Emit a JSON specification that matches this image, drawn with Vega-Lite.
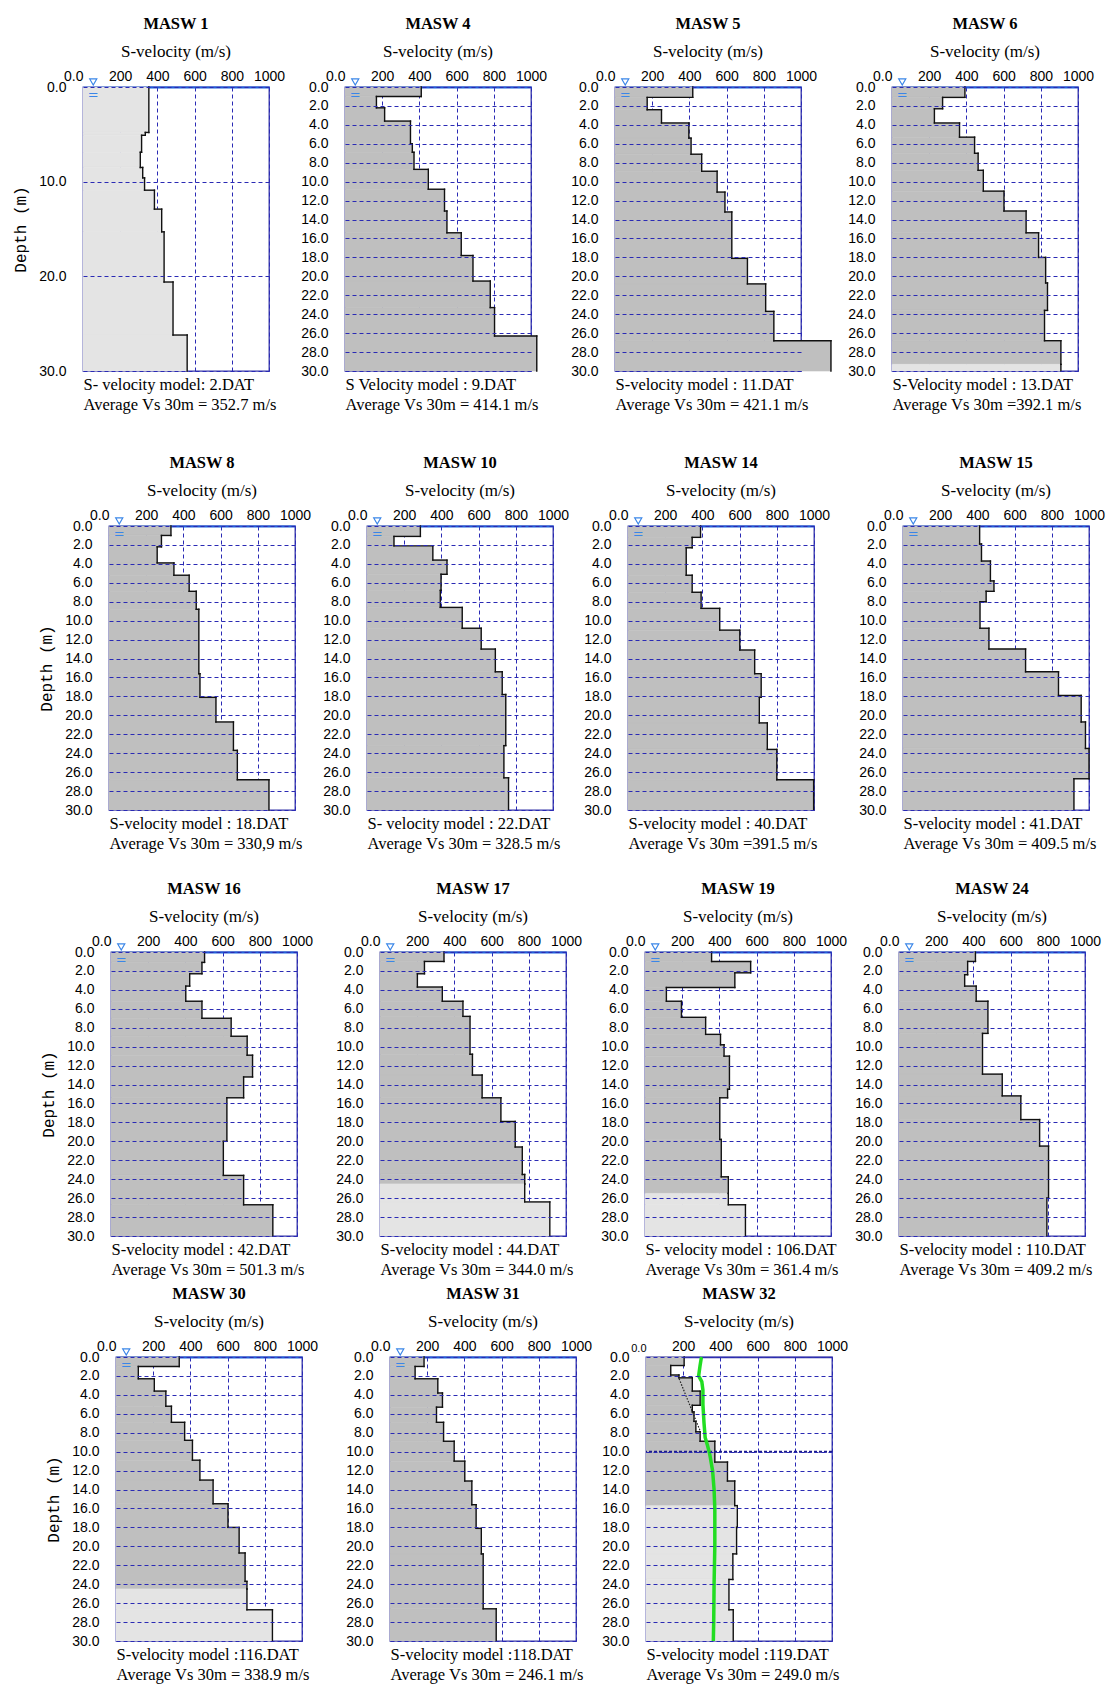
{
  "$schema": "https://vega.github.io/schema/vega-lite/v6.json",
  "padding": {"left": 8, "top": 14, "right": 5, "bottom": 5},
  "background": "white",
  "datasets": {
    "L": [
      {"p":1,"t":0,"b":4.8,"v":354,"z":"l"},{"p":1,"t":4.8,"b":5.1,"v":335,"z":"l"},{"p":1,"t":5.1,"b":6.9,"v":315,"z":"l"},{"p":1,"t":6.9,"b":8.5,"v":308,"z":"l"},{"p":1,"t":8.5,"b":9.6,"v":321,"z":"l"},{"p":1,"t":9.6,"b":10.9,"v":331,"z":"l"},{"p":1,"t":10.9,"b":12.9,"v":384,"z":"l"},{"p":1,"t":12.9,"b":15.3,"v":423,"z":"l"},{"p":1,"t":15.3,"b":20.6,"v":436,"z":"l"},{"p":1,"t":20.6,"b":26.2,"v":484,"z":"l"},{"p":1,"t":26.2,"b":30,"v":560,"z":"l"},
      {"p":4,"t":0,"b":1,"v":410,"z":"d"},{"p":4,"t":1,"b":2.2,"v":169,"z":"d"},{"p":4,"t":2.2,"b":3.6,"v":213,"z":"d"},{"p":4,"t":3.6,"b":6,"v":352,"z":"d"},{"p":4,"t":6,"b":6.9,"v":362,"z":"d"},{"p":4,"t":6.9,"b":8.7,"v":371,"z":"d"},{"p":4,"t":8.7,"b":10.8,"v":448,"z":"d"},{"p":4,"t":10.8,"b":13.1,"v":535,"z":"d"},{"p":4,"t":13.1,"b":15.4,"v":548,"z":"d"},{"p":4,"t":15.4,"b":17.8,"v":625,"z":"d"},{"p":4,"t":17.8,"b":20.5,"v":688,"z":"d"},{"p":4,"t":20.5,"b":23.3,"v":781,"z":"d"},{"p":4,"t":23.3,"b":26.3,"v":804,"z":"d"},{"p":4,"t":26.3,"b":30,"v":1031,"z":"d"},
      {"p":5,"t":0,"b":1.1,"v":418,"z":"d"},{"p":5,"t":1.1,"b":2.4,"v":173,"z":"d"},{"p":5,"t":2.4,"b":3.8,"v":250,"z":"d"},{"p":5,"t":3.8,"b":5.4,"v":397,"z":"d"},{"p":5,"t":5.4,"b":7.1,"v":409,"z":"d"},{"p":5,"t":7.1,"b":8.9,"v":466,"z":"d"},{"p":5,"t":8.9,"b":11.1,"v":549,"z":"d"},{"p":5,"t":11.1,"b":13.2,"v":591,"z":"d"},{"p":5,"t":13.2,"b":18.1,"v":628,"z":"d"},{"p":5,"t":18.1,"b":20.8,"v":712,"z":"d"},{"p":5,"t":20.8,"b":23.7,"v":810,"z":"d"},{"p":5,"t":23.7,"b":26.8,"v":854,"z":"d"},{"p":5,"t":26.8,"b":30,"v":1161,"z":"d"},
      {"p":6,"t":0,"b":1.1,"v":392,"z":"d"},{"p":6,"t":1.1,"b":2.3,"v":272,"z":"d"},{"p":6,"t":2.3,"b":3.8,"v":228,"z":"d"},{"p":6,"t":3.8,"b":5.3,"v":363,"z":"d"},{"p":6,"t":5.3,"b":7,"v":444,"z":"d"},{"p":6,"t":7,"b":8.8,"v":463,"z":"d"},{"p":6,"t":8.8,"b":11,"v":491,"z":"d"},{"p":6,"t":11,"b":13.1,"v":602,"z":"d"},{"p":6,"t":13.1,"b":15.4,"v":721,"z":"d"},{"p":6,"t":15.4,"b":18,"v":788,"z":"d"},{"p":6,"t":18,"b":20.7,"v":826,"z":"d"},{"p":6,"t":20.7,"b":23.6,"v":836,"z":"d"},{"p":6,"t":23.6,"b":26.8,"v":820,"z":"d"},{"p":6,"t":26.8,"b":29.3,"v":908,"z":"d"},{"p":6,"t":29.3,"b":30,"v":908,"z":"l"},
      {"p":8,"t":0,"b":1,"v":333,"z":"d"},{"p":8,"t":1,"b":2.2,"v":282,"z":"d"},{"p":8,"t":2.2,"b":3.9,"v":259,"z":"d"},{"p":8,"t":3.9,"b":5.2,"v":349,"z":"d"},{"p":8,"t":5.2,"b":6.9,"v":431,"z":"d"},{"p":8,"t":6.9,"b":8.8,"v":469,"z":"d"},{"p":8,"t":8.8,"b":15.6,"v":483,"z":"d"},{"p":8,"t":15.6,"b":18.1,"v":489,"z":"d"},{"p":8,"t":18.1,"b":20.7,"v":575,"z":"d"},{"p":8,"t":20.7,"b":23.7,"v":669,"z":"d"},{"p":8,"t":23.7,"b":26.8,"v":690,"z":"d"},{"p":8,"t":26.8,"b":30,"v":860,"z":"d"},
      {"p":10,"t":0,"b":1.1,"v":287,"z":"d"},{"p":10,"t":1.1,"b":2.1,"v":145,"z":"d"},{"p":10,"t":2.1,"b":3.6,"v":354,"z":"d"},{"p":10,"t":3.6,"b":5.1,"v":430,"z":"d"},{"p":10,"t":5.1,"b":6.8,"v":398,"z":"d"},{"p":10,"t":6.8,"b":8.6,"v":394,"z":"d"},{"p":10,"t":8.6,"b":10.8,"v":512,"z":"d"},{"p":10,"t":10.8,"b":13,"v":614,"z":"d"},{"p":10,"t":13,"b":15.4,"v":690,"z":"d"},{"p":10,"t":15.4,"b":17.8,"v":727,"z":"d"},{"p":10,"t":17.8,"b":23.2,"v":746,"z":"d"},{"p":10,"t":23.2,"b":26.6,"v":736,"z":"d"},{"p":10,"t":26.6,"b":30,"v":761,"z":"d"},
      {"p":14,"t":0,"b":1.2,"v":390,"z":"d"},{"p":14,"t":1.2,"b":2.3,"v":345,"z":"d"},{"p":14,"t":2.3,"b":5.2,"v":313,"z":"d"},{"p":14,"t":5.2,"b":7,"v":345,"z":"d"},{"p":14,"t":7,"b":8.7,"v":393,"z":"d"},{"p":14,"t":8.7,"b":11,"v":493,"z":"d"},{"p":14,"t":11,"b":13.1,"v":601,"z":"d"},{"p":14,"t":13.1,"b":15.6,"v":681,"z":"d"},{"p":14,"t":15.6,"b":18.1,"v":716,"z":"d"},{"p":14,"t":18.1,"b":20.8,"v":706,"z":"d"},{"p":14,"t":20.8,"b":23.6,"v":749,"z":"d"},{"p":14,"t":23.6,"b":26.8,"v":800,"z":"d"},{"p":14,"t":26.8,"b":30,"v":998,"z":"d"},
      {"p":15,"t":0,"b":1.9,"v":412,"z":"d"},{"p":15,"t":1.9,"b":3.7,"v":422,"z":"d"},{"p":15,"t":3.7,"b":5.8,"v":470,"z":"d"},{"p":15,"t":5.8,"b":6.9,"v":489,"z":"d"},{"p":15,"t":6.9,"b":8,"v":447,"z":"d"},{"p":15,"t":8,"b":10.8,"v":414,"z":"d"},{"p":15,"t":10.8,"b":13,"v":462,"z":"d"},{"p":15,"t":13,"b":15.4,"v":659,"z":"d"},{"p":15,"t":15.4,"b":17.9,"v":836,"z":"d"},{"p":15,"t":17.9,"b":20.7,"v":958,"z":"d"},{"p":15,"t":20.7,"b":23.5,"v":981,"z":"d"},{"p":15,"t":23.5,"b":26.7,"v":1000,"z":"d"},{"p":15,"t":26.7,"b":30,"v":919,"z":"d"},
      {"p":16,"t":0,"b":1.1,"v":503,"z":"d"},{"p":16,"t":1.1,"b":2.3,"v":489,"z":"d"},{"p":16,"t":2.3,"b":3.6,"v":423,"z":"d"},{"p":16,"t":3.6,"b":5.2,"v":402,"z":"d"},{"p":16,"t":5.2,"b":7,"v":489,"z":"d"},{"p":16,"t":7,"b":8.9,"v":646,"z":"d"},{"p":16,"t":8.9,"b":10.9,"v":732,"z":"d"},{"p":16,"t":10.9,"b":13.2,"v":761,"z":"d"},{"p":16,"t":13.2,"b":15.4,"v":713,"z":"d"},{"p":16,"t":15.4,"b":20,"v":623,"z":"d"},{"p":16,"t":20,"b":23.6,"v":604,"z":"d"},{"p":16,"t":23.6,"b":26.7,"v":713,"z":"d"},{"p":16,"t":26.7,"b":30,"v":870,"z":"d"},
      {"p":17,"t":0,"b":1,"v":344,"z":"d"},{"p":17,"t":1,"b":2.3,"v":239,"z":"d"},{"p":17,"t":2.3,"b":3.7,"v":201,"z":"d"},{"p":17,"t":3.7,"b":5.2,"v":335,"z":"d"},{"p":17,"t":5.2,"b":6.8,"v":446,"z":"d"},{"p":17,"t":6.8,"b":10.8,"v":484,"z":"d"},{"p":17,"t":10.8,"b":13,"v":497,"z":"d"},{"p":17,"t":13,"b":15.4,"v":549,"z":"d"},{"p":17,"t":15.4,"b":17.9,"v":650,"z":"d"},{"p":17,"t":17.9,"b":20.6,"v":727,"z":"d"},{"p":17,"t":20.6,"b":23.5,"v":765,"z":"d"},{"p":17,"t":23.5,"b":24.5,"v":778,"z":"d"},{"p":17,"t":24.5,"b":26.4,"v":778,"z":"l"},{"p":17,"t":26.4,"b":30,"v":913,"z":"l"},
      {"p":19,"t":0,"b":1,"v":358,"z":"d"},{"p":19,"t":1,"b":2.2,"v":568,"z":"d"},{"p":19,"t":2.2,"b":3.75,"v":483,"z":"d"},{"p":19,"t":3.75,"b":5.2,"v":115,"z":"d"},{"p":19,"t":5.2,"b":6.9,"v":196,"z":"d"},{"p":19,"t":6.9,"b":8.7,"v":326,"z":"d"},{"p":19,"t":8.7,"b":9.8,"v":406,"z":"d"},{"p":19,"t":9.8,"b":11,"v":425,"z":"d"},{"p":19,"t":11,"b":14.5,"v":454,"z":"d"},{"p":19,"t":14.5,"b":15.4,"v":444,"z":"d"},{"p":19,"t":15.4,"b":19.8,"v":402,"z":"d"},{"p":19,"t":19.8,"b":23.75,"v":410,"z":"d"},{"p":19,"t":23.75,"b":25.5,"v":448,"z":"d"},{"p":19,"t":25.5,"b":26.7,"v":448,"z":"l"},{"p":19,"t":26.7,"b":30,"v":540,"z":"l"},
      {"p":24,"t":0,"b":1,"v":411,"z":"d"},{"p":24,"t":1,"b":2.4,"v":369,"z":"d"},{"p":24,"t":2.4,"b":3.6,"v":353,"z":"d"},{"p":24,"t":3.6,"b":5.2,"v":415,"z":"d"},{"p":24,"t":5.2,"b":8.6,"v":478,"z":"d"},{"p":24,"t":8.6,"b":12.9,"v":449,"z":"d"},{"p":24,"t":12.9,"b":15.2,"v":555,"z":"d"},{"p":24,"t":15.2,"b":17.7,"v":655,"z":"d"},{"p":24,"t":17.7,"b":20.5,"v":756,"z":"d"},{"p":24,"t":20.5,"b":26,"v":804,"z":"d"},{"p":24,"t":26,"b":30,"v":795,"z":"d"},
      {"p":30,"t":0,"b":1,"v":340,"z":"d"},{"p":30,"t":1,"b":2.3,"v":120,"z":"d"},{"p":30,"t":2.3,"b":3.6,"v":206,"z":"d"},{"p":30,"t":3.6,"b":5.2,"v":268,"z":"d"},{"p":30,"t":5.2,"b":6.9,"v":298,"z":"d"},{"p":30,"t":6.9,"b":8.8,"v":369,"z":"d"},{"p":30,"t":8.8,"b":10.9,"v":411,"z":"d"},{"p":30,"t":10.9,"b":13,"v":451,"z":"d"},{"p":30,"t":13,"b":15.5,"v":522,"z":"d"},{"p":30,"t":15.5,"b":18,"v":602,"z":"d"},{"p":30,"t":18,"b":20.7,"v":662,"z":"d"},{"p":30,"t":20.7,"b":23.7,"v":694,"z":"d"},{"p":30,"t":23.7,"b":24.5,"v":704,"z":"d"},{"p":30,"t":24.5,"b":26.7,"v":704,"z":"l"},{"p":30,"t":26.7,"b":30,"v":841,"z":"l"},
      {"p":31,"t":0,"b":1,"v":183,"z":"d"},{"p":31,"t":1,"b":2.3,"v":135,"z":"d"},{"p":31,"t":2.3,"b":3.8,"v":257,"z":"d"},{"p":31,"t":3.8,"b":5.3,"v":282,"z":"d"},{"p":31,"t":5.3,"b":6.9,"v":250,"z":"d"},{"p":31,"t":6.9,"b":8.9,"v":288,"z":"d"},{"p":31,"t":8.9,"b":11,"v":345,"z":"d"},{"p":31,"t":11,"b":13.1,"v":402,"z":"d"},{"p":31,"t":13.1,"b":15.6,"v":440,"z":"d"},{"p":31,"t":15.6,"b":18.1,"v":463,"z":"d"},{"p":31,"t":18.1,"b":20.8,"v":491,"z":"d"},{"p":31,"t":20.8,"b":26.6,"v":501,"z":"d"},{"p":31,"t":26.6,"b":30,"v":571,"z":"d"},
      {"p":32,"t":0,"b":0.9,"v":205,"z":"d"},{"p":32,"t":0.9,"b":1.9,"v":133,"z":"d"},{"p":32,"t":1.9,"b":2.2,"v":177,"z":"d"},{"p":32,"t":2.2,"b":3.6,"v":249,"z":"d"},{"p":32,"t":3.6,"b":5.1,"v":291,"z":"d"},{"p":32,"t":5.1,"b":5.8,"v":249,"z":"d"},{"p":32,"t":5.8,"b":6.8,"v":258,"z":"d"},{"p":32,"t":6.8,"b":7.9,"v":268,"z":"d"},{"p":32,"t":7.9,"b":8.9,"v":291,"z":"d"},{"p":32,"t":8.9,"b":11.1,"v":370,"z":"d"},{"p":32,"t":11.1,"b":13.1,"v":438,"z":"d"},{"p":32,"t":13.1,"b":15.7,"v":477,"z":"d"},{"p":32,"t":15.7,"b":18,"v":491,"z":"l"},{"p":32,"t":18,"b":20.8,"v":487,"z":"l"},{"p":32,"t":20.8,"b":23.5,"v":467,"z":"l"},{"p":32,"t":23.5,"b":26.7,"v":446,"z":"l"},{"p":32,"t":26.7,"b":30,"v":469,"z":"l"}
    ],
    "G": [
      {"d":0,"v":298},{"d":1,"v":290},{"d":2,"v":283},{"d":2.6,"v":300},{"d":3.5,"v":306},{"d":5,"v":306},{"d":7,"v":312},{"d":8.5,"v":318},{"d":9.3,"v":330},{"d":10.2,"v":342},{"d":12,"v":358},{"d":14,"v":366},{"d":16,"v":370},{"d":20,"v":370},{"d":24,"v":366},{"d":28,"v":364},{"d":30,"v":362}
    ],
    "DT": [
      {"d":2.0,"v":172},{"d":7.8,"v":291}
    ]
  },
  "config": {
    "font": "Liberation Serif",
    "view": {"stroke": "#3434a8", "strokeWidth": 1.3},
    "title": {"font": "Liberation Serif", "fontSize": 16.5, "fontWeight": "bold", "color": "#000000", "subtitleFont": "Liberation Serif", "subtitleFontSize": 17, "subtitleColor": "#000000", "subtitlePadding": 12, "offset": 9, "anchor": "middle", "frame": "group"},
    "axis": {"labelFont": "Liberation Sans", "labelFontSize": 14, "labelColor": "#000000", "titleFont": "Liberation Serif", "titleColor": "#000000", "titleFontWeight": "normal", "ticks": false, "domain": false, "grid": false},
    "axisTop": {"tickCount": 5, "labelExpr": "datum.value === 0 ? '0.0' : format(datum.value, 'd')", "labelPadding": 4, "grid": true, "gridColor": "#2a2ab4", "gridDash": [4, 3], "gridWidth": 1, "domain": true, "domainColor": "#1f5fd9", "domainWidth": 2.2, "zindex": 1},
    "axisLeft": {"titleFont": "Liberation Mono", "titleFontSize": 16, "titlePadding": 10},
    "axisBottom": {"labels": false, "grid": false, "domain": false, "ticks": false, "titleAnchor": "start", "titleAlign": "left", "titleBaseline": "top", "titleFont": "Liberation Serif", "titleFontSize": 16.5, "titlePadding": 5, "titleLineHeight": 20}
  },
  "spacing": 39,
  "vconcat": [
    {"bounds": "flush", "spacing": 71, "hconcat": [
      {"width": 1, "height": 1, "data": {"values": [{}]}, "mark": {"type": "point", "opacity": 0}, "view": {"stroke": null}},
      {"bounds": "flush", "spacing": 76, "hconcat": [
      {"title": {"text": "MASW 1", "subtitle": "S-velocity (m/s)"}, "width": 186, "height": 284, "resolve": {"axis": {"x": "independent", "y": "independent"}}, "layer": [
        {"data": {"name": "L"}, "transform": [{"filter": "datum.p==1"}], "mark": {"type": "rect", "strokeWidth": 0.6}, "encoding": {"x": {"field": "v", "type": "quantitative", "scale": {"domain": [0, 1000], "nice": false}, "axis": {"orient": "top", "title": null, "labelAlign": {"condition": {"test": "datum.value === 0", "value": "right"}, "value": "center"}}}, "x2": {"datum": 0}, "y": {"field": "t", "type": "quantitative", "scale": {"domain": [0, 30], "nice": false, "reverse": true}, "axis": {"orient": "left", "title": "Depth  (m)", "tickCount": 3, "labelExpr": "format(datum.value, '.1f')", "labelPadding": 17, "grid": true, "gridColor": "#2a2ab4", "gridDash": [4, 3], "zindex": 1}}, "y2": {"field": "b"}, "fill": {"field": "z", "type": "nominal", "scale": {"domain": ["d", "l"], "range": ["#bfbfbf", "#e4e4e4"]}, "legend": null}, "stroke": {"field": "z", "type": "nominal", "scale": {"domain": ["d", "l"], "range": ["#bfbfbf", "#e4e4e4"]}, "legend": null}}},
        {"data": {"name": "L"}, "transform": [{"filter": "datum.p==1"}], "mark": {"type": "rule", "color": "#111111", "strokeWidth": 1.4, "strokeCap": "square"}, "encoding": {"x": {"field": "v", "type": "quantitative", "axis": {"orient": "bottom", "title": ["S- velocity model: 2.DAT", "Average Vs 30m = 352.7 m/s"]}}, "y": {"field": "t", "type": "quantitative", "axis": null}, "y2": {"field": "b"}}},
        {"data": {"name": "L"}, "transform": [{"filter": "datum.p==1"}, {"window": [{"op": "lead", "field": "v", "as": "vn"}], "sort": [{"field": "t", "order": "ascending"}]}, {"filter": "datum.vn != null"}], "mark": {"type": "rule", "color": "#111111", "strokeWidth": 1.4, "strokeCap": "square"}, "encoding": {"x": {"field": "v", "type": "quantitative", "axis": null}, "x2": {"field": "vn"}, "y": {"field": "b", "type": "quantitative", "axis": null}}},
        {"data": {"values": [{}]}, "mark": {"type": "point", "shape": "triangle-down", "size": 50, "fill": "#ffffff", "stroke": "#3a86e8", "strokeWidth": 1.2, "opacity": 1, "yOffset": -5}, "encoding": {"x": {"datum": 55, "axis": null}, "y": {"datum": 0, "axis": null}}},
        {"data": {"values": [{}]}, "mark": {"type": "text", "text": "=", "color": "#3a86e8", "fontSize": 13, "font": "DejaVu Sans"}, "encoding": {"x": {"datum": 55, "axis": null}, "y": {"datum": 0.8, "axis": null}}}
      ]},
      {"bounds": "flush", "spacing": 84, "hconcat": [
        {"title": {"text": "MASW 4", "subtitle": "S-velocity (m/s)"}, "width": 186, "height": 284, "resolve": {"axis": {"x": "independent", "y": "independent"}}, "layer": [
          {"data": {"name": "L"}, "transform": [{"filter": "datum.p==4"}], "mark": {"type": "rect", "strokeWidth": 0.6}, "encoding": {"x": {"field": "v", "type": "quantitative", "scale": {"domain": [0, 1000], "nice": false}, "axis": {"orient": "top", "title": null, "labelAlign": {"condition": {"test": "datum.value === 0", "value": "right"}, "value": "center"}}}, "x2": {"datum": 0}, "y": {"field": "t", "type": "quantitative", "scale": {"domain": [0, 30], "nice": false, "reverse": true}, "axis": {"orient": "left", "title": null, "tickCount": 15, "labelExpr": "format(datum.value, '.1f')", "labelPadding": 17, "grid": true, "gridColor": "#2a2ab4", "gridDash": [4, 3], "zindex": 1}}, "y2": {"field": "b"}, "fill": {"field": "z", "type": "nominal", "scale": {"domain": ["d", "l"], "range": ["#bfbfbf", "#e4e4e4"]}, "legend": null}, "stroke": {"field": "z", "type": "nominal", "scale": {"domain": ["d", "l"], "range": ["#bfbfbf", "#e4e4e4"]}, "legend": null}}},
          {"data": {"name": "L"}, "transform": [{"filter": "datum.p==4"}], "mark": {"type": "rule", "color": "#111111", "strokeWidth": 1.4, "strokeCap": "square"}, "encoding": {"x": {"field": "v", "type": "quantitative", "axis": {"orient": "bottom", "title": ["S Velocity model : 9.DAT", "Average Vs 30m = 414.1 m/s"]}}, "y": {"field": "t", "type": "quantitative", "axis": null}, "y2": {"field": "b"}}},
          {"data": {"name": "L"}, "transform": [{"filter": "datum.p==4"}, {"window": [{"op": "lead", "field": "v", "as": "vn"}], "sort": [{"field": "t", "order": "ascending"}]}, {"filter": "datum.vn != null"}], "mark": {"type": "rule", "color": "#111111", "strokeWidth": 1.4, "strokeCap": "square"}, "encoding": {"x": {"field": "v", "type": "quantitative", "axis": null}, "x2": {"field": "vn"}, "y": {"field": "b", "type": "quantitative", "axis": null}}},
          {"data": {"values": [{}]}, "mark": {"type": "point", "shape": "triangle-down", "size": 50, "fill": "#ffffff", "stroke": "#3a86e8", "strokeWidth": 1.2, "opacity": 1, "yOffset": -5}, "encoding": {"x": {"datum": 55, "axis": null}, "y": {"datum": 0, "axis": null}}},
          {"data": {"values": [{}]}, "mark": {"type": "text", "text": "=", "color": "#3a86e8", "fontSize": 13, "font": "DejaVu Sans"}, "encoding": {"x": {"datum": 55, "axis": null}, "y": {"datum": 0.8, "axis": null}}}
        ]},
        {"bounds": "flush", "spacing": 91, "hconcat": [
          {"title": {"text": "MASW 5", "subtitle": "S-velocity (m/s)"}, "width": 186, "height": 284, "resolve": {"axis": {"x": "independent", "y": "independent"}}, "layer": [
            {"data": {"name": "L"}, "transform": [{"filter": "datum.p==5"}], "mark": {"type": "rect", "strokeWidth": 0.6}, "encoding": {"x": {"field": "v", "type": "quantitative", "scale": {"domain": [0, 1000], "nice": false}, "axis": {"orient": "top", "title": null, "labelAlign": {"condition": {"test": "datum.value === 0", "value": "right"}, "value": "center"}}}, "x2": {"datum": 0}, "y": {"field": "t", "type": "quantitative", "scale": {"domain": [0, 30], "nice": false, "reverse": true}, "axis": {"orient": "left", "title": null, "tickCount": 15, "labelExpr": "format(datum.value, '.1f')", "labelPadding": 17, "grid": true, "gridColor": "#2a2ab4", "gridDash": [4, 3], "zindex": 1}}, "y2": {"field": "b"}, "fill": {"field": "z", "type": "nominal", "scale": {"domain": ["d", "l"], "range": ["#bfbfbf", "#e4e4e4"]}, "legend": null}, "stroke": {"field": "z", "type": "nominal", "scale": {"domain": ["d", "l"], "range": ["#bfbfbf", "#e4e4e4"]}, "legend": null}}},
            {"data": {"name": "L"}, "transform": [{"filter": "datum.p==5"}], "mark": {"type": "rule", "color": "#111111", "strokeWidth": 1.4, "strokeCap": "square"}, "encoding": {"x": {"field": "v", "type": "quantitative", "axis": {"orient": "bottom", "title": ["S-velocity model : 11.DAT", "Average Vs 30m = 421.1 m/s"]}}, "y": {"field": "t", "type": "quantitative", "axis": null}, "y2": {"field": "b"}}},
            {"data": {"name": "L"}, "transform": [{"filter": "datum.p==5"}, {"window": [{"op": "lead", "field": "v", "as": "vn"}], "sort": [{"field": "t", "order": "ascending"}]}, {"filter": "datum.vn != null"}], "mark": {"type": "rule", "color": "#111111", "strokeWidth": 1.4, "strokeCap": "square"}, "encoding": {"x": {"field": "v", "type": "quantitative", "axis": null}, "x2": {"field": "vn"}, "y": {"field": "b", "type": "quantitative", "axis": null}}},
            {"data": {"values": [{}]}, "mark": {"type": "point", "shape": "triangle-down", "size": 50, "fill": "#ffffff", "stroke": "#3a86e8", "strokeWidth": 1.2, "opacity": 1, "yOffset": -5}, "encoding": {"x": {"datum": 55, "axis": null}, "y": {"datum": 0, "axis": null}}},
            {"data": {"values": [{}]}, "mark": {"type": "text", "text": "=", "color": "#3a86e8", "fontSize": 13, "font": "DejaVu Sans"}, "encoding": {"x": {"datum": 55, "axis": null}, "y": {"datum": 0.8, "axis": null}}}
          ]},
          {"title": {"text": "MASW 6", "subtitle": "S-velocity (m/s)"}, "width": 186, "height": 284, "resolve": {"axis": {"x": "independent", "y": "independent"}}, "layer": [
            {"data": {"name": "L"}, "transform": [{"filter": "datum.p==6"}], "mark": {"type": "rect", "strokeWidth": 0.6}, "encoding": {"x": {"field": "v", "type": "quantitative", "scale": {"domain": [0, 1000], "nice": false}, "axis": {"orient": "top", "title": null, "labelAlign": {"condition": {"test": "datum.value === 0", "value": "right"}, "value": "center"}}}, "x2": {"datum": 0}, "y": {"field": "t", "type": "quantitative", "scale": {"domain": [0, 30], "nice": false, "reverse": true}, "axis": {"orient": "left", "title": null, "tickCount": 15, "labelExpr": "format(datum.value, '.1f')", "labelPadding": 17, "grid": true, "gridColor": "#2a2ab4", "gridDash": [4, 3], "zindex": 1}}, "y2": {"field": "b"}, "fill": {"field": "z", "type": "nominal", "scale": {"domain": ["d", "l"], "range": ["#bfbfbf", "#e4e4e4"]}, "legend": null}, "stroke": {"field": "z", "type": "nominal", "scale": {"domain": ["d", "l"], "range": ["#bfbfbf", "#e4e4e4"]}, "legend": null}}},
            {"data": {"name": "L"}, "transform": [{"filter": "datum.p==6"}], "mark": {"type": "rule", "color": "#111111", "strokeWidth": 1.4, "strokeCap": "square"}, "encoding": {"x": {"field": "v", "type": "quantitative", "axis": {"orient": "bottom", "title": ["S-Velocity model : 13.DAT", "Average Vs 30m =392.1 m/s"]}}, "y": {"field": "t", "type": "quantitative", "axis": null}, "y2": {"field": "b"}}},
            {"data": {"name": "L"}, "transform": [{"filter": "datum.p==6"}, {"window": [{"op": "lead", "field": "v", "as": "vn"}], "sort": [{"field": "t", "order": "ascending"}]}, {"filter": "datum.vn != null"}], "mark": {"type": "rule", "color": "#111111", "strokeWidth": 1.4, "strokeCap": "square"}, "encoding": {"x": {"field": "v", "type": "quantitative", "axis": null}, "x2": {"field": "vn"}, "y": {"field": "b", "type": "quantitative", "axis": null}}},
            {"data": {"values": [{}]}, "mark": {"type": "point", "shape": "triangle-down", "size": 50, "fill": "#ffffff", "stroke": "#3a86e8", "strokeWidth": 1.2, "opacity": 1, "yOffset": -5}, "encoding": {"x": {"datum": 55, "axis": null}, "y": {"datum": 0, "axis": null}}},
            {"data": {"values": [{}]}, "mark": {"type": "text", "text": "=", "color": "#3a86e8", "fontSize": 13, "font": "DejaVu Sans"}, "encoding": {"x": {"datum": 55, "axis": null}, "y": {"datum": 0.8, "axis": null}}}
          ]}
        ]}
      ]}
      ]}
    ]},
    {"spacing": 26, "vconcat": [
      {"bounds": "flush", "spacing": 97, "hconcat": [
        {"width": 1, "height": 1, "data": {"values": [{}]}, "mark": {"type": "point", "opacity": 0}, "view": {"stroke": null}},
        {"bounds": "flush", "spacing": 72, "hconcat": [
          {"title": {"text": "MASW 8", "subtitle": "S-velocity (m/s)"}, "width": 186, "height": 284, "resolve": {"axis": {"x": "independent", "y": "independent"}}, "layer": [
            {"data": {"name": "L"}, "transform": [{"filter": "datum.p==8"}], "mark": {"type": "rect", "strokeWidth": 0.6}, "encoding": {"x": {"field": "v", "type": "quantitative", "scale": {"domain": [0, 1000], "nice": false}, "axis": {"orient": "top", "title": null, "labelAlign": {"condition": {"test": "datum.value === 0", "value": "right"}, "value": "center"}}}, "x2": {"datum": 0}, "y": {"field": "t", "type": "quantitative", "scale": {"domain": [0, 30], "nice": false, "reverse": true}, "axis": {"orient": "left", "title": "Depth  (m)", "tickCount": 15, "labelExpr": "format(datum.value, '.1f')", "labelPadding": 17, "grid": true, "gridColor": "#2a2ab4", "gridDash": [4, 3], "zindex": 1}}, "y2": {"field": "b"}, "fill": {"field": "z", "type": "nominal", "scale": {"domain": ["d", "l"], "range": ["#bfbfbf", "#e4e4e4"]}, "legend": null}, "stroke": {"field": "z", "type": "nominal", "scale": {"domain": ["d", "l"], "range": ["#bfbfbf", "#e4e4e4"]}, "legend": null}}},
            {"data": {"name": "L"}, "transform": [{"filter": "datum.p==8"}], "mark": {"type": "rule", "color": "#111111", "strokeWidth": 1.4, "strokeCap": "square"}, "encoding": {"x": {"field": "v", "type": "quantitative", "axis": {"orient": "bottom", "title": ["S-velocity model : 18.DAT", "Average Vs 30m = 330,9 m/s"]}}, "y": {"field": "t", "type": "quantitative", "axis": null}, "y2": {"field": "b"}}},
            {"data": {"name": "L"}, "transform": [{"filter": "datum.p==8"}, {"window": [{"op": "lead", "field": "v", "as": "vn"}], "sort": [{"field": "t", "order": "ascending"}]}, {"filter": "datum.vn != null"}], "mark": {"type": "rule", "color": "#111111", "strokeWidth": 1.4, "strokeCap": "square"}, "encoding": {"x": {"field": "v", "type": "quantitative", "axis": null}, "x2": {"field": "vn"}, "y": {"field": "b", "type": "quantitative", "axis": null}}},
            {"data": {"values": [{}]}, "mark": {"type": "point", "shape": "triangle-down", "size": 50, "fill": "#ffffff", "stroke": "#3a86e8", "strokeWidth": 1.2, "opacity": 1, "yOffset": -5}, "encoding": {"x": {"datum": 55, "axis": null}, "y": {"datum": 0, "axis": null}}},
            {"data": {"values": [{}]}, "mark": {"type": "text", "text": "=", "color": "#3a86e8", "fontSize": 13, "font": "DejaVu Sans"}, "encoding": {"x": {"datum": 55, "axis": null}, "y": {"datum": 0.8, "axis": null}}}
          ]},
          {"bounds": "flush", "spacing": 75, "hconcat": [
            {"title": {"text": "MASW 10", "subtitle": "S-velocity (m/s)"}, "width": 186, "height": 284, "resolve": {"axis": {"x": "independent", "y": "independent"}}, "layer": [
              {"data": {"name": "L"}, "transform": [{"filter": "datum.p==10"}], "mark": {"type": "rect", "strokeWidth": 0.6}, "encoding": {"x": {"field": "v", "type": "quantitative", "scale": {"domain": [0, 1000], "nice": false}, "axis": {"orient": "top", "title": null, "labelAlign": {"condition": {"test": "datum.value === 0", "value": "right"}, "value": "center"}}}, "x2": {"datum": 0}, "y": {"field": "t", "type": "quantitative", "scale": {"domain": [0, 30], "nice": false, "reverse": true}, "axis": {"orient": "left", "title": null, "tickCount": 15, "labelExpr": "format(datum.value, '.1f')", "labelPadding": 17, "grid": true, "gridColor": "#2a2ab4", "gridDash": [4, 3], "zindex": 1}}, "y2": {"field": "b"}, "fill": {"field": "z", "type": "nominal", "scale": {"domain": ["d", "l"], "range": ["#bfbfbf", "#e4e4e4"]}, "legend": null}, "stroke": {"field": "z", "type": "nominal", "scale": {"domain": ["d", "l"], "range": ["#bfbfbf", "#e4e4e4"]}, "legend": null}}},
              {"data": {"name": "L"}, "transform": [{"filter": "datum.p==10"}], "mark": {"type": "rule", "color": "#111111", "strokeWidth": 1.4, "strokeCap": "square"}, "encoding": {"x": {"field": "v", "type": "quantitative", "axis": {"orient": "bottom", "title": ["S- velocity model : 22.DAT", "Average Vs 30m = 328.5 m/s"]}}, "y": {"field": "t", "type": "quantitative", "axis": null}, "y2": {"field": "b"}}},
              {"data": {"name": "L"}, "transform": [{"filter": "datum.p==10"}, {"window": [{"op": "lead", "field": "v", "as": "vn"}], "sort": [{"field": "t", "order": "ascending"}]}, {"filter": "datum.vn != null"}], "mark": {"type": "rule", "color": "#111111", "strokeWidth": 1.4, "strokeCap": "square"}, "encoding": {"x": {"field": "v", "type": "quantitative", "axis": null}, "x2": {"field": "vn"}, "y": {"field": "b", "type": "quantitative", "axis": null}}},
              {"data": {"values": [{}]}, "mark": {"type": "point", "shape": "triangle-down", "size": 50, "fill": "#ffffff", "stroke": "#3a86e8", "strokeWidth": 1.2, "opacity": 1, "yOffset": -5}, "encoding": {"x": {"datum": 55, "axis": null}, "y": {"datum": 0, "axis": null}}},
              {"data": {"values": [{}]}, "mark": {"type": "text", "text": "=", "color": "#3a86e8", "fontSize": 13, "font": "DejaVu Sans"}, "encoding": {"x": {"datum": 55, "axis": null}, "y": {"datum": 0.8, "axis": null}}}
            ]},
            {"bounds": "flush", "spacing": 89, "hconcat": [
              {"title": {"text": "MASW 14", "subtitle": "S-velocity (m/s)"}, "width": 186, "height": 284, "resolve": {"axis": {"x": "independent", "y": "independent"}}, "layer": [
                {"data": {"name": "L"}, "transform": [{"filter": "datum.p==14"}], "mark": {"type": "rect", "strokeWidth": 0.6}, "encoding": {"x": {"field": "v", "type": "quantitative", "scale": {"domain": [0, 1000], "nice": false}, "axis": {"orient": "top", "title": null, "labelAlign": {"condition": {"test": "datum.value === 0", "value": "right"}, "value": "center"}}}, "x2": {"datum": 0}, "y": {"field": "t", "type": "quantitative", "scale": {"domain": [0, 30], "nice": false, "reverse": true}, "axis": {"orient": "left", "title": null, "tickCount": 15, "labelExpr": "format(datum.value, '.1f')", "labelPadding": 17, "grid": true, "gridColor": "#2a2ab4", "gridDash": [4, 3], "zindex": 1}}, "y2": {"field": "b"}, "fill": {"field": "z", "type": "nominal", "scale": {"domain": ["d", "l"], "range": ["#bfbfbf", "#e4e4e4"]}, "legend": null}, "stroke": {"field": "z", "type": "nominal", "scale": {"domain": ["d", "l"], "range": ["#bfbfbf", "#e4e4e4"]}, "legend": null}}},
                {"data": {"name": "L"}, "transform": [{"filter": "datum.p==14"}], "mark": {"type": "rule", "color": "#111111", "strokeWidth": 1.4, "strokeCap": "square"}, "encoding": {"x": {"field": "v", "type": "quantitative", "axis": {"orient": "bottom", "title": ["S-velocity model : 40.DAT", "Average Vs 30m =391.5 m/s"]}}, "y": {"field": "t", "type": "quantitative", "axis": null}, "y2": {"field": "b"}}},
                {"data": {"name": "L"}, "transform": [{"filter": "datum.p==14"}, {"window": [{"op": "lead", "field": "v", "as": "vn"}], "sort": [{"field": "t", "order": "ascending"}]}, {"filter": "datum.vn != null"}], "mark": {"type": "rule", "color": "#111111", "strokeWidth": 1.4, "strokeCap": "square"}, "encoding": {"x": {"field": "v", "type": "quantitative", "axis": null}, "x2": {"field": "vn"}, "y": {"field": "b", "type": "quantitative", "axis": null}}},
                {"data": {"values": [{}]}, "mark": {"type": "point", "shape": "triangle-down", "size": 50, "fill": "#ffffff", "stroke": "#3a86e8", "strokeWidth": 1.2, "opacity": 1, "yOffset": -5}, "encoding": {"x": {"datum": 55, "axis": null}, "y": {"datum": 0, "axis": null}}},
                {"data": {"values": [{}]}, "mark": {"type": "text", "text": "=", "color": "#3a86e8", "fontSize": 13, "font": "DejaVu Sans"}, "encoding": {"x": {"datum": 55, "axis": null}, "y": {"datum": 0.8, "axis": null}}}
              ]},
              {"title": {"text": "MASW 15", "subtitle": "S-velocity (m/s)"}, "width": 186, "height": 284, "resolve": {"axis": {"x": "independent", "y": "independent"}}, "layer": [
                {"data": {"name": "L"}, "transform": [{"filter": "datum.p==15"}], "mark": {"type": "rect", "strokeWidth": 0.6}, "encoding": {"x": {"field": "v", "type": "quantitative", "scale": {"domain": [0, 1000], "nice": false}, "axis": {"orient": "top", "title": null, "labelAlign": {"condition": {"test": "datum.value === 0", "value": "right"}, "value": "center"}}}, "x2": {"datum": 0}, "y": {"field": "t", "type": "quantitative", "scale": {"domain": [0, 30], "nice": false, "reverse": true}, "axis": {"orient": "left", "title": null, "tickCount": 15, "labelExpr": "format(datum.value, '.1f')", "labelPadding": 17, "grid": true, "gridColor": "#2a2ab4", "gridDash": [4, 3], "zindex": 1}}, "y2": {"field": "b"}, "fill": {"field": "z", "type": "nominal", "scale": {"domain": ["d", "l"], "range": ["#bfbfbf", "#e4e4e4"]}, "legend": null}, "stroke": {"field": "z", "type": "nominal", "scale": {"domain": ["d", "l"], "range": ["#bfbfbf", "#e4e4e4"]}, "legend": null}}},
                {"data": {"name": "L"}, "transform": [{"filter": "datum.p==15"}], "mark": {"type": "rule", "color": "#111111", "strokeWidth": 1.4, "strokeCap": "square"}, "encoding": {"x": {"field": "v", "type": "quantitative", "axis": {"orient": "bottom", "title": ["S-velocity model : 41.DAT", "Average Vs 30m = 409.5 m/s"]}}, "y": {"field": "t", "type": "quantitative", "axis": null}, "y2": {"field": "b"}}},
                {"data": {"name": "L"}, "transform": [{"filter": "datum.p==15"}, {"window": [{"op": "lead", "field": "v", "as": "vn"}], "sort": [{"field": "t", "order": "ascending"}]}, {"filter": "datum.vn != null"}], "mark": {"type": "rule", "color": "#111111", "strokeWidth": 1.4, "strokeCap": "square"}, "encoding": {"x": {"field": "v", "type": "quantitative", "axis": null}, "x2": {"field": "vn"}, "y": {"field": "b", "type": "quantitative", "axis": null}}},
                {"data": {"values": [{}]}, "mark": {"type": "point", "shape": "triangle-down", "size": 50, "fill": "#ffffff", "stroke": "#3a86e8", "strokeWidth": 1.2, "opacity": 1, "yOffset": -5}, "encoding": {"x": {"datum": 55, "axis": null}, "y": {"datum": 0, "axis": null}}},
                {"data": {"values": [{}]}, "mark": {"type": "text", "text": "=", "color": "#3a86e8", "fontSize": 13, "font": "DejaVu Sans"}, "encoding": {"x": {"datum": 55, "axis": null}, "y": {"datum": 0.8, "axis": null}}}
              ]}
            ]}
          ]}
        ]}
      ]},
      {"spacing": 5, "vconcat": [
        {"bounds": "flush", "spacing": 99, "hconcat": [
          {"width": 1, "height": 1, "data": {"values": [{}]}, "mark": {"type": "point", "opacity": 0}, "view": {"stroke": null}},
          {"bounds": "flush", "spacing": 83, "hconcat": [
            {"title": {"text": "MASW 16", "subtitle": "S-velocity (m/s)"}, "width": 186, "height": 284, "resolve": {"axis": {"x": "independent", "y": "independent"}}, "layer": [
              {"data": {"name": "L"}, "transform": [{"filter": "datum.p==16"}], "mark": {"type": "rect", "strokeWidth": 0.6}, "encoding": {"x": {"field": "v", "type": "quantitative", "scale": {"domain": [0, 1000], "nice": false}, "axis": {"orient": "top", "title": null, "labelAlign": {"condition": {"test": "datum.value === 0", "value": "right"}, "value": "center"}}}, "x2": {"datum": 0}, "y": {"field": "t", "type": "quantitative", "scale": {"domain": [0, 30], "nice": false, "reverse": true}, "axis": {"orient": "left", "title": "Depth  (m)", "tickCount": 15, "labelExpr": "format(datum.value, '.1f')", "labelPadding": 17, "grid": true, "gridColor": "#2a2ab4", "gridDash": [4, 3], "zindex": 1}}, "y2": {"field": "b"}, "fill": {"field": "z", "type": "nominal", "scale": {"domain": ["d", "l"], "range": ["#bfbfbf", "#e4e4e4"]}, "legend": null}, "stroke": {"field": "z", "type": "nominal", "scale": {"domain": ["d", "l"], "range": ["#bfbfbf", "#e4e4e4"]}, "legend": null}}},
              {"data": {"name": "L"}, "transform": [{"filter": "datum.p==16"}], "mark": {"type": "rule", "color": "#111111", "strokeWidth": 1.4, "strokeCap": "square"}, "encoding": {"x": {"field": "v", "type": "quantitative", "axis": {"orient": "bottom", "title": ["S-velocity model : 42.DAT", "Average Vs 30m = 501.3 m/s"]}}, "y": {"field": "t", "type": "quantitative", "axis": null}, "y2": {"field": "b"}}},
              {"data": {"name": "L"}, "transform": [{"filter": "datum.p==16"}, {"window": [{"op": "lead", "field": "v", "as": "vn"}], "sort": [{"field": "t", "order": "ascending"}]}, {"filter": "datum.vn != null"}], "mark": {"type": "rule", "color": "#111111", "strokeWidth": 1.4, "strokeCap": "square"}, "encoding": {"x": {"field": "v", "type": "quantitative", "axis": null}, "x2": {"field": "vn"}, "y": {"field": "b", "type": "quantitative", "axis": null}}},
              {"data": {"values": [{}]}, "mark": {"type": "point", "shape": "triangle-down", "size": 50, "fill": "#ffffff", "stroke": "#3a86e8", "strokeWidth": 1.2, "opacity": 1, "yOffset": -5}, "encoding": {"x": {"datum": 55, "axis": null}, "y": {"datum": 0, "axis": null}}},
              {"data": {"values": [{}]}, "mark": {"type": "text", "text": "=", "color": "#3a86e8", "fontSize": 13, "font": "DejaVu Sans"}, "encoding": {"x": {"datum": 55, "axis": null}, "y": {"datum": 0.8, "axis": null}}}
            ]},
            {"bounds": "flush", "spacing": 79, "hconcat": [
              {"title": {"text": "MASW 17", "subtitle": "S-velocity (m/s)"}, "width": 186, "height": 284, "resolve": {"axis": {"x": "independent", "y": "independent"}}, "layer": [
                {"data": {"name": "L"}, "transform": [{"filter": "datum.p==17"}], "mark": {"type": "rect", "strokeWidth": 0.6}, "encoding": {"x": {"field": "v", "type": "quantitative", "scale": {"domain": [0, 1000], "nice": false}, "axis": {"orient": "top", "title": null, "labelAlign": {"condition": {"test": "datum.value === 0", "value": "right"}, "value": "center"}}}, "x2": {"datum": 0}, "y": {"field": "t", "type": "quantitative", "scale": {"domain": [0, 30], "nice": false, "reverse": true}, "axis": {"orient": "left", "title": null, "tickCount": 15, "labelExpr": "format(datum.value, '.1f')", "labelPadding": 17, "grid": true, "gridColor": "#2a2ab4", "gridDash": [4, 3], "zindex": 1}}, "y2": {"field": "b"}, "fill": {"field": "z", "type": "nominal", "scale": {"domain": ["d", "l"], "range": ["#bfbfbf", "#e4e4e4"]}, "legend": null}, "stroke": {"field": "z", "type": "nominal", "scale": {"domain": ["d", "l"], "range": ["#bfbfbf", "#e4e4e4"]}, "legend": null}}},
                {"data": {"name": "L"}, "transform": [{"filter": "datum.p==17"}], "mark": {"type": "rule", "color": "#111111", "strokeWidth": 1.4, "strokeCap": "square"}, "encoding": {"x": {"field": "v", "type": "quantitative", "axis": {"orient": "bottom", "title": ["S-velocity model : 44.DAT", "Average Vs 30m = 344.0 m/s"]}}, "y": {"field": "t", "type": "quantitative", "axis": null}, "y2": {"field": "b"}}},
                {"data": {"name": "L"}, "transform": [{"filter": "datum.p==17"}, {"window": [{"op": "lead", "field": "v", "as": "vn"}], "sort": [{"field": "t", "order": "ascending"}]}, {"filter": "datum.vn != null"}], "mark": {"type": "rule", "color": "#111111", "strokeWidth": 1.4, "strokeCap": "square"}, "encoding": {"x": {"field": "v", "type": "quantitative", "axis": null}, "x2": {"field": "vn"}, "y": {"field": "b", "type": "quantitative", "axis": null}}},
                {"data": {"values": [{}]}, "mark": {"type": "point", "shape": "triangle-down", "size": 50, "fill": "#ffffff", "stroke": "#3a86e8", "strokeWidth": 1.2, "opacity": 1, "yOffset": -5}, "encoding": {"x": {"datum": 55, "axis": null}, "y": {"datum": 0, "axis": null}}},
                {"data": {"values": [{}]}, "mark": {"type": "text", "text": "=", "color": "#3a86e8", "fontSize": 13, "font": "DejaVu Sans"}, "encoding": {"x": {"datum": 55, "axis": null}, "y": {"datum": 0.8, "axis": null}}}
              ]},
              {"bounds": "flush", "spacing": 68, "hconcat": [
                {"title": {"text": "MASW 19", "subtitle": "S-velocity (m/s)"}, "width": 186, "height": 284, "resolve": {"axis": {"x": "independent", "y": "independent"}}, "layer": [
                  {"data": {"name": "L"}, "transform": [{"filter": "datum.p==19"}], "mark": {"type": "rect", "strokeWidth": 0.6}, "encoding": {"x": {"field": "v", "type": "quantitative", "scale": {"domain": [0, 1000], "nice": false}, "axis": {"orient": "top", "title": null, "labelAlign": {"condition": {"test": "datum.value === 0", "value": "right"}, "value": "center"}}}, "x2": {"datum": 0}, "y": {"field": "t", "type": "quantitative", "scale": {"domain": [0, 30], "nice": false, "reverse": true}, "axis": {"orient": "left", "title": null, "tickCount": 15, "labelExpr": "format(datum.value, '.1f')", "labelPadding": 17, "grid": true, "gridColor": "#2a2ab4", "gridDash": [4, 3], "zindex": 1}}, "y2": {"field": "b"}, "fill": {"field": "z", "type": "nominal", "scale": {"domain": ["d", "l"], "range": ["#bfbfbf", "#e4e4e4"]}, "legend": null}, "stroke": {"field": "z", "type": "nominal", "scale": {"domain": ["d", "l"], "range": ["#bfbfbf", "#e4e4e4"]}, "legend": null}}},
                  {"data": {"name": "L"}, "transform": [{"filter": "datum.p==19"}], "mark": {"type": "rule", "color": "#111111", "strokeWidth": 1.4, "strokeCap": "square"}, "encoding": {"x": {"field": "v", "type": "quantitative", "axis": {"orient": "bottom", "title": ["S- velocity model : 106.DAT", "Average Vs 30m = 361.4 m/s"]}}, "y": {"field": "t", "type": "quantitative", "axis": null}, "y2": {"field": "b"}}},
                  {"data": {"name": "L"}, "transform": [{"filter": "datum.p==19"}, {"window": [{"op": "lead", "field": "v", "as": "vn"}], "sort": [{"field": "t", "order": "ascending"}]}, {"filter": "datum.vn != null"}], "mark": {"type": "rule", "color": "#111111", "strokeWidth": 1.4, "strokeCap": "square"}, "encoding": {"x": {"field": "v", "type": "quantitative", "axis": null}, "x2": {"field": "vn"}, "y": {"field": "b", "type": "quantitative", "axis": null}}},
                  {"data": {"values": [{}]}, "mark": {"type": "point", "shape": "triangle-down", "size": 50, "fill": "#ffffff", "stroke": "#3a86e8", "strokeWidth": 1.2, "opacity": 1, "yOffset": -5}, "encoding": {"x": {"datum": 55, "axis": null}, "y": {"datum": 0, "axis": null}}},
                  {"data": {"values": [{}]}, "mark": {"type": "text", "text": "=", "color": "#3a86e8", "fontSize": 13, "font": "DejaVu Sans"}, "encoding": {"x": {"datum": 55, "axis": null}, "y": {"datum": 0.8, "axis": null}}}
                ]},
                {"title": {"text": "MASW 24", "subtitle": "S-velocity (m/s)"}, "width": 186, "height": 284, "resolve": {"axis": {"x": "independent", "y": "independent"}}, "layer": [
                  {"data": {"name": "L"}, "transform": [{"filter": "datum.p==24"}], "mark": {"type": "rect", "strokeWidth": 0.6}, "encoding": {"x": {"field": "v", "type": "quantitative", "scale": {"domain": [0, 1000], "nice": false}, "axis": {"orient": "top", "title": null, "labelAlign": {"condition": {"test": "datum.value === 0", "value": "right"}, "value": "center"}}}, "x2": {"datum": 0}, "y": {"field": "t", "type": "quantitative", "scale": {"domain": [0, 30], "nice": false, "reverse": true}, "axis": {"orient": "left", "title": null, "tickCount": 15, "labelExpr": "format(datum.value, '.1f')", "labelPadding": 17, "grid": true, "gridColor": "#2a2ab4", "gridDash": [4, 3], "zindex": 1}}, "y2": {"field": "b"}, "fill": {"field": "z", "type": "nominal", "scale": {"domain": ["d", "l"], "range": ["#bfbfbf", "#e4e4e4"]}, "legend": null}, "stroke": {"field": "z", "type": "nominal", "scale": {"domain": ["d", "l"], "range": ["#bfbfbf", "#e4e4e4"]}, "legend": null}}},
                  {"data": {"name": "L"}, "transform": [{"filter": "datum.p==24"}], "mark": {"type": "rule", "color": "#111111", "strokeWidth": 1.4, "strokeCap": "square"}, "encoding": {"x": {"field": "v", "type": "quantitative", "axis": {"orient": "bottom", "title": ["S-velocity model : 110.DAT", "Average Vs 30m = 409.2 m/s"]}}, "y": {"field": "t", "type": "quantitative", "axis": null}, "y2": {"field": "b"}}},
                  {"data": {"name": "L"}, "transform": [{"filter": "datum.p==24"}, {"window": [{"op": "lead", "field": "v", "as": "vn"}], "sort": [{"field": "t", "order": "ascending"}]}, {"filter": "datum.vn != null"}], "mark": {"type": "rule", "color": "#111111", "strokeWidth": 1.4, "strokeCap": "square"}, "encoding": {"x": {"field": "v", "type": "quantitative", "axis": null}, "x2": {"field": "vn"}, "y": {"field": "b", "type": "quantitative", "axis": null}}},
                  {"data": {"values": [{}]}, "mark": {"type": "point", "shape": "triangle-down", "size": 50, "fill": "#ffffff", "stroke": "#3a86e8", "strokeWidth": 1.2, "opacity": 1, "yOffset": -5}, "encoding": {"x": {"datum": 55, "axis": null}, "y": {"datum": 0, "axis": null}}},
                  {"data": {"values": [{}]}, "mark": {"type": "text", "text": "=", "color": "#3a86e8", "fontSize": 13, "font": "DejaVu Sans"}, "encoding": {"x": {"datum": 55, "axis": null}, "y": {"datum": 0.8, "axis": null}}}
                ]}
              ]}
            ]}
          ]}
        ]},
        {"bounds": "flush", "spacing": 104, "hconcat": [
          {"width": 1, "height": 1, "data": {"values": [{}]}, "mark": {"type": "point", "opacity": 0}, "view": {"stroke": null}},
          {"bounds": "flush", "spacing": 88, "hconcat": [
            {"title": {"text": "MASW 30", "subtitle": "S-velocity (m/s)"}, "width": 186, "height": 284, "resolve": {"axis": {"x": "independent", "y": "independent"}}, "layer": [
              {"data": {"name": "L"}, "transform": [{"filter": "datum.p==30"}], "mark": {"type": "rect", "strokeWidth": 0.6}, "encoding": {"x": {"field": "v", "type": "quantitative", "scale": {"domain": [0, 1000], "nice": false}, "axis": {"orient": "top", "title": null, "labelAlign": {"condition": {"test": "datum.value === 0", "value": "right"}, "value": "center"}}}, "x2": {"datum": 0}, "y": {"field": "t", "type": "quantitative", "scale": {"domain": [0, 30], "nice": false, "reverse": true}, "axis": {"orient": "left", "title": "Depth  (m)", "tickCount": 15, "labelExpr": "format(datum.value, '.1f')", "labelPadding": 17, "grid": true, "gridColor": "#2a2ab4", "gridDash": [4, 3], "zindex": 1}}, "y2": {"field": "b"}, "fill": {"field": "z", "type": "nominal", "scale": {"domain": ["d", "l"], "range": ["#bfbfbf", "#e4e4e4"]}, "legend": null}, "stroke": {"field": "z", "type": "nominal", "scale": {"domain": ["d", "l"], "range": ["#bfbfbf", "#e4e4e4"]}, "legend": null}}},
              {"data": {"name": "L"}, "transform": [{"filter": "datum.p==30"}], "mark": {"type": "rule", "color": "#111111", "strokeWidth": 1.4, "strokeCap": "square"}, "encoding": {"x": {"field": "v", "type": "quantitative", "axis": {"orient": "bottom", "title": ["S-velocity model :116.DAT", "Average Vs 30m = 338.9 m/s"]}}, "y": {"field": "t", "type": "quantitative", "axis": null}, "y2": {"field": "b"}}},
              {"data": {"name": "L"}, "transform": [{"filter": "datum.p==30"}, {"window": [{"op": "lead", "field": "v", "as": "vn"}], "sort": [{"field": "t", "order": "ascending"}]}, {"filter": "datum.vn != null"}], "mark": {"type": "rule", "color": "#111111", "strokeWidth": 1.4, "strokeCap": "square"}, "encoding": {"x": {"field": "v", "type": "quantitative", "axis": null}, "x2": {"field": "vn"}, "y": {"field": "b", "type": "quantitative", "axis": null}}},
              {"data": {"values": [{}]}, "mark": {"type": "point", "shape": "triangle-down", "size": 50, "fill": "#ffffff", "stroke": "#3a86e8", "strokeWidth": 1.2, "opacity": 1, "yOffset": -5}, "encoding": {"x": {"datum": 55, "axis": null}, "y": {"datum": 0, "axis": null}}},
              {"data": {"values": [{}]}, "mark": {"type": "text", "text": "=", "color": "#3a86e8", "fontSize": 13, "font": "DejaVu Sans"}, "encoding": {"x": {"datum": 55, "axis": null}, "y": {"datum": 0.8, "axis": null}}}
            ]},
            {"bounds": "flush", "spacing": 70, "hconcat": [
              {"title": {"text": "MASW 31", "subtitle": "S-velocity (m/s)"}, "width": 186, "height": 284, "resolve": {"axis": {"x": "independent", "y": "independent"}}, "layer": [
                {"data": {"name": "L"}, "transform": [{"filter": "datum.p==31"}], "mark": {"type": "rect", "strokeWidth": 0.6}, "encoding": {"x": {"field": "v", "type": "quantitative", "scale": {"domain": [0, 1000], "nice": false}, "axis": {"orient": "top", "title": null, "labelAlign": {"condition": {"test": "datum.value === 0", "value": "right"}, "value": "center"}}}, "x2": {"datum": 0}, "y": {"field": "t", "type": "quantitative", "scale": {"domain": [0, 30], "nice": false, "reverse": true}, "axis": {"orient": "left", "title": null, "tickCount": 15, "labelExpr": "format(datum.value, '.1f')", "labelPadding": 17, "grid": true, "gridColor": "#2a2ab4", "gridDash": [4, 3], "zindex": 1}}, "y2": {"field": "b"}, "fill": {"field": "z", "type": "nominal", "scale": {"domain": ["d", "l"], "range": ["#bfbfbf", "#e4e4e4"]}, "legend": null}, "stroke": {"field": "z", "type": "nominal", "scale": {"domain": ["d", "l"], "range": ["#bfbfbf", "#e4e4e4"]}, "legend": null}}},
                {"data": {"name": "L"}, "transform": [{"filter": "datum.p==31"}], "mark": {"type": "rule", "color": "#111111", "strokeWidth": 1.4, "strokeCap": "square"}, "encoding": {"x": {"field": "v", "type": "quantitative", "axis": {"orient": "bottom", "title": ["S-velocity model :118.DAT", "Average Vs 30m = 246.1 m/s"]}}, "y": {"field": "t", "type": "quantitative", "axis": null}, "y2": {"field": "b"}}},
                {"data": {"name": "L"}, "transform": [{"filter": "datum.p==31"}, {"window": [{"op": "lead", "field": "v", "as": "vn"}], "sort": [{"field": "t", "order": "ascending"}]}, {"filter": "datum.vn != null"}], "mark": {"type": "rule", "color": "#111111", "strokeWidth": 1.4, "strokeCap": "square"}, "encoding": {"x": {"field": "v", "type": "quantitative", "axis": null}, "x2": {"field": "vn"}, "y": {"field": "b", "type": "quantitative", "axis": null}}},
                {"data": {"values": [{}]}, "mark": {"type": "point", "shape": "triangle-down", "size": 50, "fill": "#ffffff", "stroke": "#3a86e8", "strokeWidth": 1.2, "opacity": 1, "yOffset": -5}, "encoding": {"x": {"datum": 55, "axis": null}, "y": {"datum": 0, "axis": null}}},
                {"data": {"values": [{}]}, "mark": {"type": "text", "text": "=", "color": "#3a86e8", "fontSize": 13, "font": "DejaVu Sans"}, "encoding": {"x": {"datum": 55, "axis": null}, "y": {"datum": 0.8, "axis": null}}}
              ]},
              {"title": {"text": "MASW 32", "subtitle": "S-velocity (m/s)"}, "width": 186, "height": 284, "resolve": {"axis": {"x": "independent", "y": "independent"}}, "layer": [
                {"data": {"name": "L"}, "transform": [{"filter": "datum.p==32"}], "mark": {"type": "rect", "strokeWidth": 0.6}, "encoding": {"x": {"field": "v", "type": "quantitative", "scale": {"domain": [0, 1000], "nice": false}, "axis": {"orient": "top", "title": null, "domainColor": "#3434a8", "domainWidth": 1.3, "labelAlign": {"condition": {"test": "datum.value === 0", "value": "right"}, "value": "center"}, "labelFontSize": {"condition": {"test": "datum.value === 0", "value": 11}, "value": 14}}}, "x2": {"datum": 0}, "y": {"field": "t", "type": "quantitative", "scale": {"domain": [0, 30], "nice": false, "reverse": true}, "axis": {"orient": "left", "title": null, "tickCount": 15, "labelExpr": "format(datum.value, '.1f')", "labelPadding": 17, "grid": true, "gridColor": "#2a2ab4", "gridDash": [4, 3], "zindex": 1}}, "y2": {"field": "b"}, "fill": {"field": "z", "type": "nominal", "scale": {"domain": ["d", "l"], "range": ["#bfbfbf", "#e4e4e4"]}, "legend": null}, "stroke": {"field": "z", "type": "nominal", "scale": {"domain": ["d", "l"], "range": ["#bfbfbf", "#e4e4e4"]}, "legend": null}}},
                {"data": {"name": "L"}, "transform": [{"filter": "datum.p==32"}], "mark": {"type": "rule", "color": "#111111", "strokeWidth": 1.4, "strokeCap": "square"}, "encoding": {"x": {"field": "v", "type": "quantitative", "axis": {"orient": "bottom", "title": ["S-velocity model :119.DAT", "Average Vs 30m = 249.0 m/s"]}}, "y": {"field": "t", "type": "quantitative", "axis": null}, "y2": {"field": "b"}}},
                {"data": {"name": "L"}, "transform": [{"filter": "datum.p==32"}, {"window": [{"op": "lead", "field": "v", "as": "vn"}], "sort": [{"field": "t", "order": "ascending"}]}, {"filter": "datum.vn != null"}], "mark": {"type": "rule", "color": "#111111", "strokeWidth": 1.4, "strokeCap": "square"}, "encoding": {"x": {"field": "v", "type": "quantitative", "axis": null}, "x2": {"field": "vn"}, "y": {"field": "b", "type": "quantitative", "axis": null}}},
                {"data": {"name": "DT"}, "mark": {"type": "line", "color": "#222222", "strokeWidth": 1.2, "strokeDash": [1.5, 1.5]}, "encoding": {"x": {"field": "v", "type": "quantitative", "axis": null}, "y": {"field": "d", "type": "quantitative", "axis": null}, "order": {"field": "d", "type": "quantitative"}}},
                {"data": {"values": [{}]}, "mark": {"type": "rule", "color": "#1a1a8c", "strokeWidth": 2, "strokeDash": [3, 2]}, "encoding": {"y": {"datum": 10, "axis": null}}},
                {"data": {"name": "G"}, "mark": {"type": "line", "color": "#22dd22", "strokeWidth": 3.5}, "encoding": {"x": {"field": "v", "type": "quantitative", "axis": null}, "y": {"field": "d", "type": "quantitative", "axis": null}, "order": {"field": "d", "type": "quantitative"}}}
              ]}
            ]}
          ]}
        ]}
      ]}
    ]}
  ]
}
